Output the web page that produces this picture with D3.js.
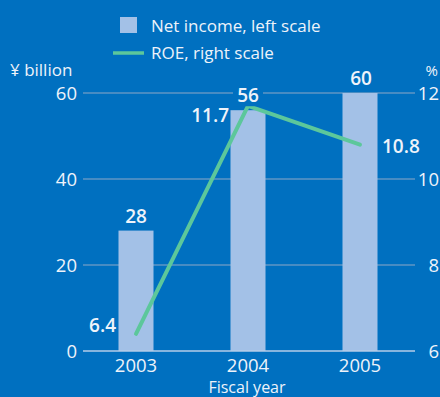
<!DOCTYPE html>
<html>
<head>
<meta charset="utf-8">
<script src="https://cdn.jsdelivr.net/npm/d3@7"></script>
<style>
  html, body { margin: 0; padding: 0; background: #0070c0; }
  svg { display: block; }
  text { font-family: "Open Sans", "Noto Sans", sans-serif; fill: #eef3fa; }
</style>
</head>
<body>
<svg id="chart" width="440" height="397"></svg>
<script>
// Fiscal years and series
const years = ["2003", "2004", "2005"];
const netIncome = [28, 56, 60];          // ¥ billion, left scale
const roe = [6.4, 11.7, 10.8];           // %, right scale
const leftTicks = [0, 20, 40, 60];
const rightTicks = [6, 8, 10, 12];
const roeLabels = ["6.4", "11.7", "10.8"];

const svg = d3.select("#chart");

const x = d3.scaleBand().domain(years).range([80, 416])
  .paddingInner(0.6875).paddingOuter(0.34375);
const yL = d3.scaleLinear().domain([0, 60]).range([351, 93]);
const yR = d3.scaleLinear().domain([6, 12]).range([351, 93]);

const gridX0 = 83, gridX1 = 415;

// gridlines
svg.append("g").selectAll("line").data(leftTicks.filter(d => d > 0)).join("line")
  .attr("x1", gridX0).attr("x2", gridX1)
  .attr("y1", d => yL(d)).attr("y2", d => yL(d))
  .attr("stroke", "#8ea8c6").attr("stroke-width", 1.2);

// left axis labels
svg.append("g").selectAll("text").data(leftTicks).join("text")
  .attr("x", 77).attr("y", d => yL(d) + 6.5)
  .attr("text-anchor", "end").attr("font-size", 18.5)
  .text(d => d);

// right axis labels
svg.append("g").selectAll("text").data(rightTicks).join("text")
  .attr("x", 439).attr("y", d => yR(d) + 6.5)
  .attr("text-anchor", "end").attr("font-size", 18.5)
  .text(d => d);

// axis units
svg.append("text").attr("x", 10).attr("y", 76).attr("font-size", 17).text("¥ billion");
svg.append("text").attr("x", 438).attr("y", 76).attr("text-anchor", "end").attr("font-size", 15).text("%");

// bars
svg.append("g").selectAll("rect").data(netIncome).join("rect")
  .attr("x", (d, i) => x(years[i]))
  .attr("width", x.bandwidth())
  .attr("y", d => yL(d))
  .attr("height", d => yL(0) - yL(d))
  .attr("fill", "#a3c1e7");

// baseline
svg.append("line").attr("x1", gridX0).attr("x2", gridX1)
  .attr("y1", yL(0)).attr("y2", yL(0))
  .attr("stroke", "#b4cde9").attr("stroke-width", 1.5);

// ROE line
const line = d3.line()
  .x((d, i) => x(years[i]) + x.bandwidth() / 2)
  .y(d => yR(d));
svg.append("path").datum(roe)
  .attr("d", line)
  .attr("fill", "none")
  .attr("stroke", "#5cc79b")
  .attr("stroke-width", 4)
  .attr("stroke-linecap", "round")
  .attr("stroke-linejoin", "round");

// net income value labels (with a backing box where one sits on a gridline)
const niLabels = svg.append("g").selectAll("g").data(netIncome).join("g")
  .attr("transform", (d, i) => `translate(${x(years[i]) + x.bandwidth() / 2 + (i === 2 ? 1 : 0)},${yL(d) - 8})`);
niLabels.filter((d, i) => i === 1).append("rect")
  .attr("x", -15).attr("y", -16).attr("width", 30).attr("height", 20)
  .attr("fill", "#0070c0");
niLabels.append("text")
  .attr("text-anchor", "middle").attr("font-size", 19).attr("font-weight", 600)
  .text(d => d);

// ROE value labels
const roePos = [
  { dx: -20, dy: -2, anchor: "end" },
  { dx: -19, dy: 16, anchor: "end" },
  { dx: 22, dy: 8, anchor: "start" }
];
svg.append("g").selectAll("text").data(roe).join("text")
  .attr("x", (d, i) => x(years[i]) + x.bandwidth() / 2 + roePos[i].dx)
  .attr("y", (d, i) => yR(d) + roePos[i].dy)
  .attr("text-anchor", (d, i) => roePos[i].anchor)
  .attr("font-size", 19).attr("font-weight", 600)
  .text((d, i) => roeLabels[i]);

// category labels
svg.append("g").selectAll("text").data(years).join("text")
  .attr("x", d => x(d) + x.bandwidth() / 2)
  .attr("y", 372)
  .attr("text-anchor", "middle").attr("font-size", 18.5)
  .text(d => d);

svg.append("text").attr("x", 247).attr("y", 393)
  .attr("text-anchor", "middle").attr("font-size", 16).text("Fiscal year");

// legend
svg.append("rect").attr("x", 120).attr("y", 17).attr("width", 17).attr("height", 16).attr("fill", "#a3c1e7");
svg.append("text").attr("x", 151).attr("y", 32).attr("font-size", 17).text("Net income, left scale");
svg.append("line").attr("x1", 113).attr("x2", 144).attr("y1", 53).attr("y2", 53)
  .attr("stroke", "#5cc79b").attr("stroke-width", 3.5);
svg.append("text").attr("x", 151).attr("y", 59).attr("font-size", 17).text("ROE, right scale");
</script>
</body>
</html>
